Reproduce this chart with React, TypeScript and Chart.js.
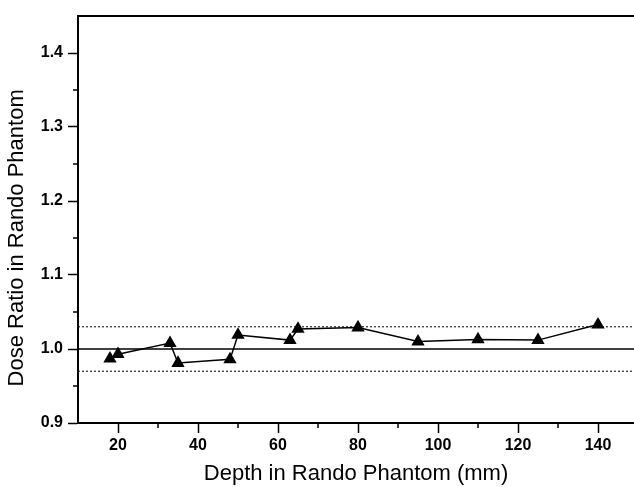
import React, { useEffect, useRef } from "react";
import { Chart, registerables } from "chart.js";

Chart.register(...registerables);

const depths = [18, 20, 33, 35, 48, 50, 63, 65, 80, 95, 110, 125, 140];
const doseRatios = [0.987, 0.993, 1.008, 0.981, 0.986, 1.019, 1.012, 1.027, 1.029, 1.010, 1.013, 1.012, 1.033];
const xMajorTicks = [20, 40, 60, 80, 100, 120, 140];
const xMinorTicks = [30, 50, 70, 90, 110, 130];
const yMajorTicks = [0.9, 1.0, 1.1, 1.2, 1.3, 1.4];
const yMinorTicks = [0.95, 1.05, 1.15, 1.25, 1.35];
const referenceLine = 1.0;
const toleranceUpper = 1.03;
const toleranceLower = 0.97;
const xRange = [10, 149];
const yRange = [0.9, 1.45];

const FONT = "'Liberation Sans', Arial, Helvetica, sans-serif";

const frame = {
  id: "frame",
  afterDraw(chart: any) {
    const { ctx, chartArea, scales } = chart;
    ctx.save();
    ctx.strokeStyle = "#000";
    ctx.lineWidth = 2;
    ctx.beginPath();
    ctx.moveTo(chartArea.left, chartArea.top);
    ctx.lineTo(chartArea.right, chartArea.top);
    ctx.stroke();
    ctx.lineWidth = 1.5;
    const x = scales.x;
    const y = scales.y;
    ctx.beginPath();
    for (const v of xMinorTicks) {
      const px = x.getPixelForValue(v);
      ctx.moveTo(px, chartArea.bottom);
      ctx.lineTo(px, chartArea.bottom + 5);
    }
    for (const v of yMinorTicks) {
      const py = y.getPixelForValue(v);
      ctx.moveTo(chartArea.left, py);
      ctx.lineTo(chartArea.left - 5, py);
    }
    ctx.stroke();
    ctx.restore();
  },
};

export default function App() {
  const ref = useRef<HTMLCanvasElement | null>(null);
  useEffect(() => {
    if (!ref.current) return;
    const hline = (v: number) => [
      { x: xRange[0], y: v },
      { x: xRange[1], y: v },
    ];
    const chart = new Chart(ref.current, {
      type: "scatter",
      data: {
        datasets: [
          {
            data: depths.map((d, i) => ({ x: d, y: doseRatios[i] })),
            showLine: true,
            borderColor: "#000",
            backgroundColor: "#000",
            borderWidth: 1.5,
            pointStyle: "triangle",
            pointRadius: 7.7,
            pointBorderWidth: 0,
            order: 0,
          },
          {
            data: hline(referenceLine),
            showLine: true,
            borderColor: "#000",
            borderWidth: 1.5,
            pointRadius: 0,
            order: 1,
          },
          {
            data: hline(toleranceUpper),
            showLine: true,
            borderColor: "#000",
            borderWidth: 1,
            borderDash: [2, 2],
            pointRadius: 0,
            order: 1,
          },
          {
            data: hline(toleranceLower),
            showLine: true,
            borderColor: "#000",
            borderWidth: 1,
            borderDash: [2, 2],
            pointRadius: 0,
            order: 1,
          },
        ],
      },
      options: {
        animation: false,
        responsive: false,
        devicePixelRatio: 1,
        layout: { autoPadding: false, padding: { top: 16, right: 0, left: 0, bottom: 0 } },
        plugins: { legend: { display: false }, tooltip: { enabled: false } },
        scales: {
          x: {
            type: "linear",
            min: xRange[0],
            max: xRange[1],
            afterBuildTicks: (s: any) => {
              s.ticks = xMajorTicks.map((v) => ({ value: v }));
            },
            afterFit: (s: any) => {
              s.height = 64;
              s.paddingLeft = 0;
              s.paddingRight = 0;
            },
            ticks: {
              color: "#000",
              padding: 3,
              font: { family: FONT, size: 16, weight: "bold" },
              maxRotation: 0,
              callback: (v: any) => String(v),
            },
            grid: {
              drawOnChartArea: false,
              drawTicks: true,
              tickLength: 10,
              tickWidth: 1.5,
              color: "#000",
            },
            border: { display: true, color: "#000", width: 2 },
            title: {
              display: true,
              text: "Depth in Rando Phantom (mm)",
              color: "#000",
              font: { family: FONT, size: 22 },
              padding: { top: 0, bottom: 0 },
            },
          },
          y: {
            type: "linear",
            min: yRange[0],
            max: yRange[1],
            afterBuildTicks: (s: any) => {
              s.ticks = yMajorTicks.map((v) => ({ value: v }));
            },
            afterFit: (s: any) => {
              s.width = 78;
              s.paddingTop = 0;
              s.paddingBottom = 0;
            },
            ticks: {
              color: "#000",
              padding: 5,
              font: { family: FONT, size: 16, weight: "bold" },
              callback: (v: any) => Number(v).toFixed(1),
            },
            grid: {
              drawOnChartArea: false,
              drawTicks: true,
              tickLength: 10,
              tickWidth: 1.5,
              color: "#000",
            },
            border: { display: true, color: "#000", width: 2 },
            title: {
              display: true,
              text: "Dose Ratio in Rando Phantom      ",
              color: "#000",
              font: { family: FONT, size: 22 },
              padding: { top: 4, bottom: 0 },
            },
          },
        },
      },
      plugins: [frame],
    });
    return () => chart.destroy();
  }, []);
  return (
    <div style={{ position: "fixed", left: 0, top: 0, width: 634, height: 487, background: "#fff" }}>
      <canvas ref={ref} width={634} height={487} />
    </div>
  );
}
